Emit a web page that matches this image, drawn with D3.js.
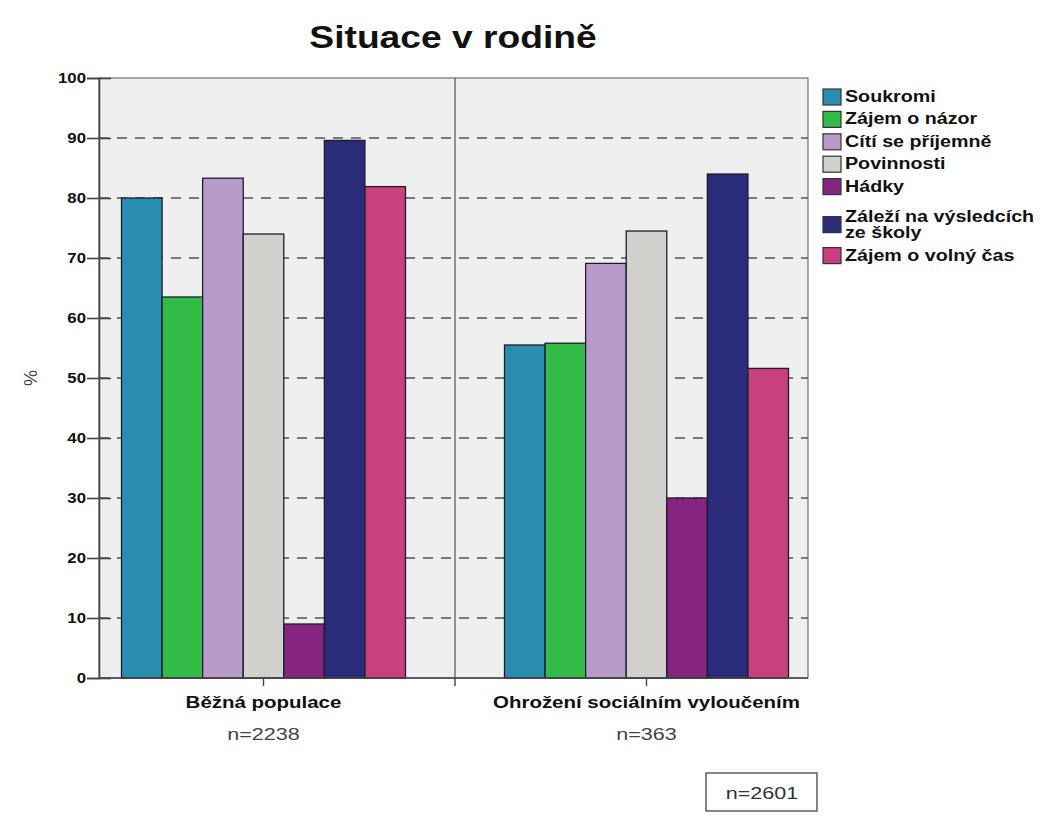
<!DOCTYPE html>
<html><head><meta charset="utf-8">
<script src="https://cdn.jsdelivr.net/npm/d3@7"></script>
<style>body{margin:0;background:#fff}svg{display:block}text{font-family:"Liberation Sans",Arial,sans-serif}</style>
</head><body><svg id="c" width="1050" height="823"></svg>
<script>
const title = "Situace v rodině";
const groups = ["Běžná populace", "Ohrožení sociálním vyloučením"];
const groupN = ["n=2238", "n=363"];
const series = ["Soukromi", "Zájem o názor", "Cítí se příjemně", "Povinnosti", "Hádky", "Záleží na výsledcích ze školy", "Zájem o volný čas"];
const bezna = [80, 63.5, 83.3, 74, 9, 89.6, 81.9];
const ohrozeni = [55.5, 55.8, 69.1, 74.5, 30, 84, 51.6];
const yTicks = [0, 10, 20, 30, 40, 50, 60, 70, 80, 90, 100];
const totalN = "n=2601";
const colors = ["#2a8db0", "#33bb48", "#b99bcb", "#d0d0cc", "#862580", "#2b2b7c", "#c8407e"];

(function () {
const values = [bezna, ohrozeni];
const svg = d3.select("#c");
function txt(g, x, y, s, opt) {
  return g.append("text")
    .attr("transform", `translate(${x},${y}) scale(${opt.sx},1)`)
    .attr("font-size", opt.size).attr("font-weight", opt.weight || "normal")
    .attr("fill", opt.fill || "#111").attr("text-anchor", opt.anchor || "start")
    .text(s);
}

const pL = 99, pR = 808, pT = 78, pB = 678;
const y = d3.scaleLinear().domain([0, 100]).range([pB, pT]);
const x0 = d3.scaleBand().domain(groups).range([72, 838]);
const x1 = d3.scaleBand().domain(series).range([0, x0.bandwidth()]).paddingInner(0).paddingOuter(1.22);
const color = d3.scaleOrdinal().domain(series).range(colors);

svg.append("rect").attr("x", pL).attr("y", pT).attr("width", pR - pL).attr("height", pB - pT)
  .attr("fill", "#efefef").attr("stroke", "#555").attr("stroke-width", 1);

svg.append("g").selectAll("line").data(yTicks.filter(d => d > 0 && d < 100)).join("line")
  .attr("x1", pL).attr("x2", pR).attr("y1", d => y(d)).attr("y2", d => y(d))
  .attr("stroke", "#555").attr("stroke-width", 1.6).attr("stroke-dasharray", "10,8");

const divX = x0(groups[1]);
svg.append("line").attr("x1", divX).attr("x2", divX).attr("y1", pT).attr("y2", pB)
  .attr("stroke", "#555").attr("stroke-width", 1.2);

const gg = svg.append("g").selectAll("g").data(groups).join("g")
  .attr("transform", d => `translate(${x0(d)},0)`);
gg.selectAll("rect").data((d, i) => series.map((s, j) => ({ s, v: values[i][j] }))).join("rect")
  .attr("x", d => x1(d.s)).attr("width", x1.bandwidth())
  .attr("y", d => y(d.v)).attr("height", d => pB - y(d.v))
  .attr("fill", d => color(d.s)).attr("stroke", "#1d1d2a").attr("stroke-width", 1.3);

const ya = svg.append("g").attr("transform", `translate(${pL},0)`)
  .call(d3.axisLeft(y).tickValues(yTicks).tickSize(12).tickFormat(""));
ya.selectAll("line").attr("stroke", "#444").attr("stroke-width", 1.6);
ya.select(".domain").attr("stroke", "#444").attr("stroke-width", 1.6);
const yb = svg.append("g").attr("transform", `translate(${pL},0)`)
  .call(d3.axisRight(y).tickValues(yTicks).tickSize(12).tickFormat(""));
yb.select(".domain").remove();
yb.selectAll("line").attr("stroke", "#444").attr("stroke-width", 1.6);
yTicks.forEach(t => txt(svg, 86, y(t) + 5, String(t), { size: 14, weight: "bold", anchor: "end", sx: 1.2 }));

const xa = svg.append("g").attr("transform", `translate(0,${pB})`)
  .call(d3.axisBottom(x0).tickSize(8).tickFormat(""));
xa.select(".domain").remove();
xa.selectAll("line").attr("stroke", "#444").attr("stroke-width", 1.4);
svg.append("line").attr("x1", pL).attr("x2", pR).attr("y1", pB).attr("y2", pB)
  .attr("stroke", "#444").attr("stroke-width", 1.6);
svg.append("line").attr("x1", divX).attr("x2", divX).attr("y1", pB).attr("y2", pB + 8)
  .attr("stroke", "#444").attr("stroke-width", 1.4);
groups.forEach((g, i) => {
  const cx = x0(g) + x0.bandwidth() / 2;
  txt(svg, cx, 708, g, { size: 16, weight: "bold", anchor: "middle", sx: 1.28 });
  txt(svg, cx, 740, groupN[i], { size: 17, anchor: "middle", fill: "#444", sx: 1.27 });
});

svg.append("text").attr("transform", "translate(37,378) rotate(-90)")
  .attr("font-size", 18).attr("fill", "#444").attr("text-anchor", "middle").text("%");

txt(svg, 453, 48, title, { size: 31, weight: "bold", anchor: "middle", sx: 1.2 });

const lg = svg.append("g");
let base = 102;
series.forEach((s, i) => {
  const words = s.split(" ");
  const lines = [];
  let cur = "";
  words.forEach(w => {
    const cand = cur ? cur + " " + w : w;
    if (cand.length > 20 && cur) { lines.push(cur); cur = w; } else cur = cand;
  });
  lines.push(cur);
  if (i > 0) base += lines.length > 1 ? 30 : 22.4;
  const firstBase = base;
  base += (lines.length - 1) * 16;
  const sy = (firstBase + base) / 2 - 13;
  lg.append("rect").attr("x", 823).attr("y", sy).attr("width", 18).attr("height", 16)
    .attr("fill", color(s)).attr("stroke", "#333").attr("stroke-width", 1.2);
  lines.forEach((l, k) => txt(lg, 845, firstBase + k * 16, l, { size: 16, weight: "bold", sx: 1.23 }));
  if (lines.length > 1) base += 0.6;
});

svg.append("rect").attr("x", 706).attr("y", 773).attr("width", 111).attr("height", 38)
  .attr("fill", "#fff").attr("stroke", "#444").attr("stroke-width", 1.3);
txt(svg, 762, 799, totalN, { size: 17, anchor: "middle", fill: "#333", sx: 1.27 });
})();
</script></body></html>
